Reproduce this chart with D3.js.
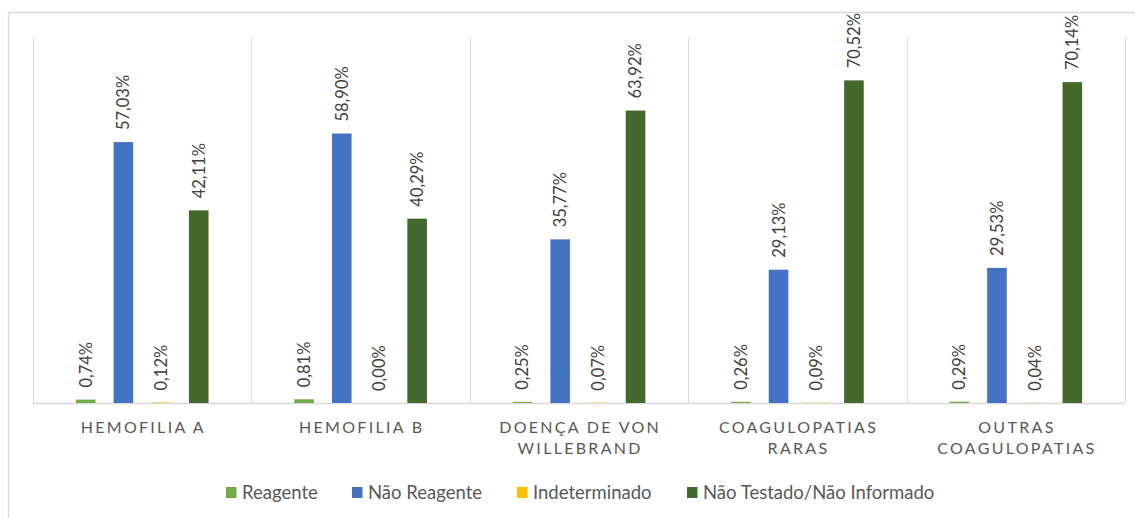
<!DOCTYPE html>
<html>
<head>
<meta charset="utf-8">
<script src="https://cdn.jsdelivr.net/npm/d3@7"></script>
<style>
    body { margin: 0; background: #fff; }
    text { font-family: Lato, "Open Sans", sans-serif; }
</style>
</head>
<body>
<div id="chart"></div>
<script>
// Categories (each entry is the lines of the axis label)
const categories = [
    ["HEMOFILIA A"],
    ["HEMOFILIA B"],
    ["DOENÇA DE VON", "WILLEBRAND"],
    ["COAGULOPATIAS", "RARAS"],
    ["OUTRAS", "COAGULOPATIAS"]
];
const seriesNames = ["Reagente", "Não Reagente", "Indeterminado", "Não Testado/Não Informado"];
const seriesColors = ["#70AD47", "#4472C4", "#FFC000", "#43682B"];

// Values in percent, one array per series
const reagente = [0.74, 0.81, 0.25, 0.26, 0.29];
const naoReagente = [57.03, 58.90, 35.77, 29.13, 29.53];
const indeterminado = [0.12, 0.00, 0.07, 0.09, 0.04];
const naoTestado = [42.11, 40.29, 63.92, 70.52, 70.14];

const seriesValues = [reagente, naoReagente, indeterminado, naoTestado];

const W = 1135, H = 518;
const plot = { left: 33, right: 1125, top: 37, bottom: 403 };

const svg = d3.select("#chart")
    .append("svg")
    .attr("width", W)
    .attr("height", H);

// Chart frame (only top and left edges are visible in the picture)
svg.append("line")
    .attr("x1", 8.5).attr("x2", W).attr("y1", 12.5).attr("y2", 12.5)
    .attr("stroke", "#d9d9d9").attr("stroke-width", 1.5);
svg.append("line")
    .attr("x1", 8.5).attr("x2", 8.5).attr("y1", 12.5).attr("y2", H)
    .attr("stroke", "#d9d9d9").attr("stroke-width", 1.5);

const catKeys = categories.map((c, i) => i);

const x0 = d3.scaleBand()
    .domain(catKeys)
    .range([plot.left, plot.right])
    .padding(0);

const x1 = d3.scaleBand()
    .domain(d3.range(seriesNames.length))
    .range([0, x0.bandwidth()])
    .paddingInner(0.48)
    .paddingOuter(1.137);

const y = d3.scaleLinear()
    .domain([0, 80])
    .range([plot.bottom, plot.top]);

// Vertical category separators
const seps = catKeys.map(k => x0(k)).concat([plot.right]);
svg.append("g")
    .selectAll("line")
    .data(seps)
    .join("line")
    .attr("x1", d => Math.round(d) + 0.5)
    .attr("x2", d => Math.round(d) + 0.5)
    .attr("y1", plot.top)
    .attr("y2", plot.bottom)
    .attr("stroke", "#d9d9d9")
    .attr("stroke-width", 1);

// Baseline
svg.append("line")
    .attr("x1", plot.left).attr("x2", plot.right)
    .attr("y1", plot.bottom + 0.5).attr("y2", plot.bottom + 0.5)
    .attr("stroke", "#d9d9d9").attr("stroke-width", 1.5);

// Bars
const barData = [];
seriesValues.forEach((vals, s) => {
    vals.forEach((v, c) => barData.push({ s, c, v }));
});

svg.append("g")
    .selectAll("rect")
    .data(barData)
    .join("rect")
    .attr("x", d => x0(d.c) + x1(d.s))
    .attr("width", x1.bandwidth())
    .attr("y", d => y(d.v))
    .attr("height", d => y(0) - y(d.v))
    .attr("fill", d => seriesColors[d.s]);

// Value labels (rotated)
const fmt = v => v.toFixed(2).replace(".", ",") + "%";
svg.append("g")
    .selectAll("text")
    .data(barData)
    .join("text")
    .attr("transform", d => {
        const cx = x0(d.c) + x1(d.s) + x1.bandwidth() / 2;
        return `translate(${cx},${y(d.v) - 12}) rotate(-90)`;
    })
    .attr("dy", "0.36em")
    .attr("text-anchor", "start")
    .style("font-size", "16.5px")
    .attr("fill", "#404040")
    .text(d => fmt(d.v));

// Category labels
const spacing = 2.3;
const catLabels = svg.append("g")
    .selectAll("text")
    .data(categories)
    .join("text")
    .attr("y", 432.5)
    .attr("text-anchor", "middle")
    .style("font-size", "16px")
    .style("letter-spacing", spacing + "px")
    .attr("fill", "#595959");

catLabels.selectAll("tspan")
    .data((d, i) => d.map(line => ({ line, i })))
    .join("tspan")
    .attr("x", d => x0(d.i) + x0.bandwidth() / 2 + spacing / 2)
    .attr("dy", (d, j) => j === 0 ? 0 : 21.6)
    .text(d => d.line);

// Legend
const legendX = [226, 352, 517, 687];
const legend = svg.append("g")
    .selectAll("g")
    .data(seriesNames)
    .join("g")
    .attr("transform", (d, i) => `translate(${legendX[i]},492.5)`);

legend.append("rect")
    .attr("x", 0)
    .attr("y", -5.5)
    .attr("width", 10.5)
    .attr("height", 11)
    .attr("fill", (d, i) => seriesColors[i]);

legend.append("text")
    .attr("x", 16)
    .attr("y", 0)
    .attr("dy", "0.36em")
    .style("font-size", "18.5px")
    .attr("fill", "#595959")
    .text(d => d);
</script>
</body>
</html>
